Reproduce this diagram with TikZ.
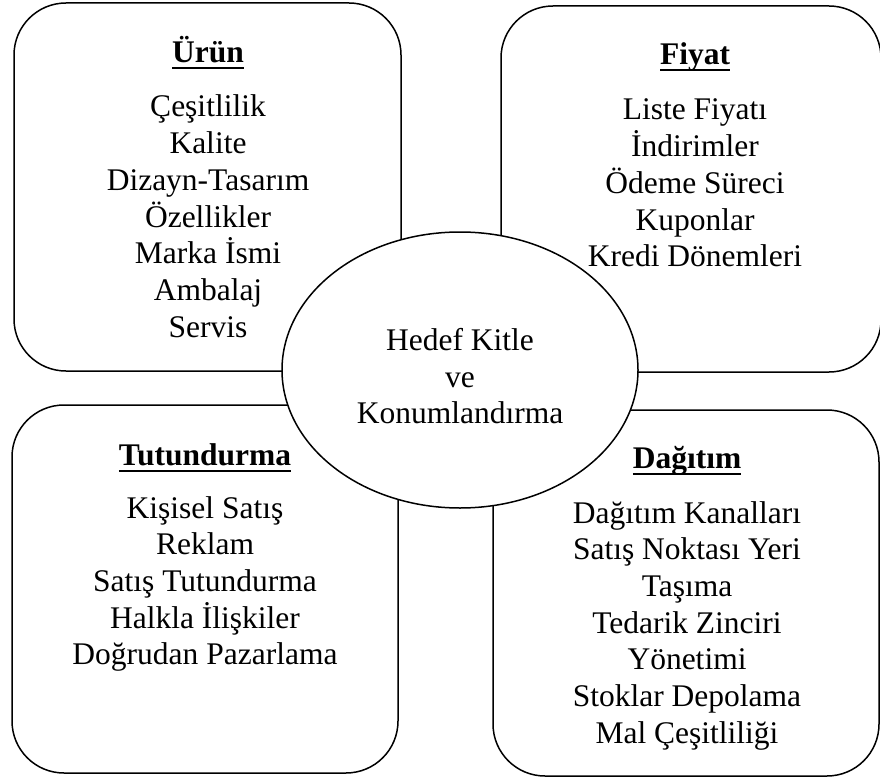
\documentclass[tikz,border=0pt]{standalone}
\usepackage{fontspec}
\setmainfont{Liberation Serif}
\usetikzlibrary{shapes.geometric}
\newcommand\ttlul[1]{\setbox0\hbox{#1}\rlap{\rule[-6.5pt]{\wd0}{2pt}}\box0}
\begin{document}
\begin{tikzpicture}[x=1pt,y=-1pt,
  box/.style={draw, line width=1.5pt, rounded corners=52pt, rectangle, inner sep=0pt, outer sep=0pt},
  oval/.style={ellipse, draw, fill=white, line width=1.5pt, inner sep=0pt, outer sep=0pt},
  txt/.style={anchor=base, inner sep=0pt, font=\fontsize{31.5}{36.7}\selectfont},
  hd/.style={anchor=base, inner sep=0pt, font=\fontsize{31.5}{36.7}\selectfont\bfseries}]
\useasboundingbox (0,0) rectangle (880,781);
% boxes
\node[box, minimum width=387pt, minimum height=368pt] (urun) at (207.5,187) {};
\node[box, minimum width=380pt, minimum height=366pt] (fiyat) at (691,189) {};
\node[box, minimum width=386pt, minimum height=368pt] (tutun) at (205,589) {};
\node[box, minimum width=386pt, minimum height=366pt] (dagit) at (686,593) {};
% centre ellipse
\node[oval, minimum width=356pt, minimum height=276pt] (hedef) at (460,370) {};
% titles
\node[hd] (turun) at (208,63) {\ttlul{Ürün}};
\node[hd] (tfiyat) at (695,65) {\ttlul{Fiyat}};
\node[hd] (ttutun) at (205,465) {\ttlul{Tutundurma}};
\node[hd] (tdagit) at (687,468) {\ttlul{Dağıtım}};
% items
\foreach \t [count=\i] in {Çeşitlilik,Kalite,Dizayn-Tasarım,Özellikler,Marka İsmi,Ambalaj,Servis}
  \node[txt] (u\i) at (208,{117+36.7*(\i-1)}) {\t};
\foreach \t [count=\i] in {Liste Fiyatı,İndirimler,Ödeme Süreci,Kuponlar,Kredi Dönemleri}
  \node[txt] (f\i) at (695,{120+36.7*(\i-1)}) {\t};
\foreach \t [count=\i] in {Kişisel Satış,Reklam,Satış Tutundurma,Halkla İlişkiler,Doğrudan Pazarlama}
  \node[txt] (p\i) at (205,{518+36.7*(\i-1)}) {\t};
\foreach \t [count=\i] in {Dağıtım Kanalları,Satış Noktası Yeri,Taşıma,Tedarik Zinciri,Yönetimi,Stoklar Depolama,Mal Çeşitliliği}
  \node[txt] (d\i) at (687,{523+36.7*(\i-1)}) {\t};
% centre text
\node[txt] (h1) at (460,350) {Hedef Kitle};
\node[txt] (h2) at (460,387) {ve};
\node[txt] (h3) at (460,423) {Konumlandırma};
\end{tikzpicture}
\end{document}
